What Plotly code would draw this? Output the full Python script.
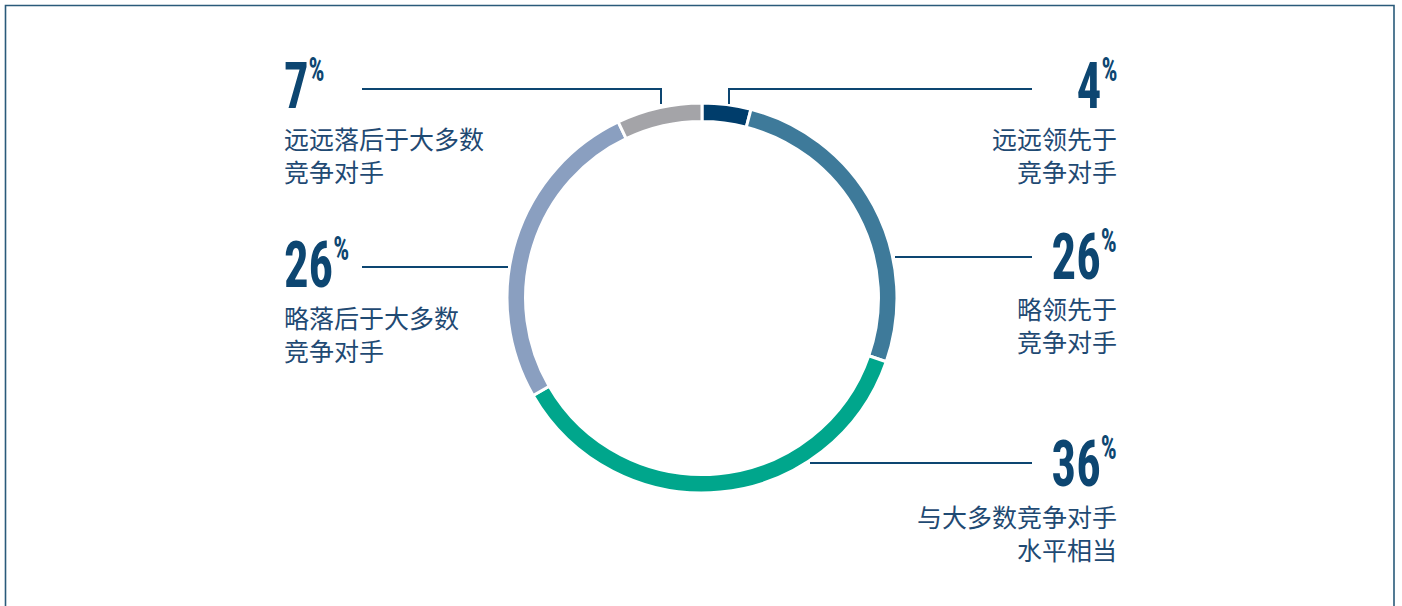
import plotly.graph_objects as go

W, H = 1402, 606

# data
values = [4, 26, 36, 26, 7]
categories = ["远远领先于<br>竞争对手", "略领先于<br>竞争对手", "与大多数竞争对手<br>水平相当",
              "略落后于大多数<br>竞争对手", "远远落后于大多数<br>竞争对手"]
colors = ["#003d6b", "#3e7a9a", "#00a68c", "#8a9fc0", "#a4a4a8"]

NAVY = "#0d4671"
TEXT = "#1f4a73"
NUMFONT = "Roboto Condensed, Roboto, sans-serif"
CJK = "Noto Sans CJK SC"

def px(x):
    return x / W

def py(y):
    return 1 - y / H

cx, cy, R = 702, 298, 195

fig = go.Figure(go.Pie(
    values=values,
    labels=categories,
    marker=dict(colors=colors, line=dict(color="white", width=3)),
    hole=0.905,
    sort=False,
    direction="clockwise",
    rotation=0,
    textinfo="none",
    hoverinfo="label+percent",
    domain=dict(x=[px(cx - R), px(cx + R)], y=[py(cy + R), py(cy - R)]),
    showlegend=False,
))

# label layout: (index, side, number center y, text block center y, anchor x)
layout_spec = [
    (0, "right", 86, 154, 1119),
    (1, "right", 257, 324, 1119),
    (2, "right", 464, 532, 1119),
    (3, "left", 265, 333, 282),
    (4, "left", 86, 154, 282),
]

annotations = []
for idx, side, ny, ty, ax in layout_spec:
    xa = "right" if side == "right" else "left"
    annotations.append(dict(
        x=px(ax), y=py(ny), xref="paper", yref="paper",
        xanchor=xa, yanchor="middle", align=xa, showarrow=False,
        text=f"{values[idx]}<sup><span style='font-size:33px'>%</span></sup>",
        font=dict(family=NUMFONT, size=64, color=NAVY, weight="bold"),
    ))
    annotations.append(dict(
        x=px(ax), y=py(ty), xref="paper", yref="paper",
        xanchor=xa, yanchor="middle", align=xa, showarrow=False,
        text=categories[idx],
        font=dict(family=CJK, size=25, color=TEXT),
    ))

shapes = []
# leader lines (pixel coordinates)
leaders = [
    [(729, 104), (729, 89), (1032, 89)],
    [(895, 257), (1032, 257)],
    [(810, 463), (1032, 463)],
    [(362, 267), (508, 267)],
    [(362, 89), (661, 89), (661, 104)],
]
for pts in leaders:
    path = "M " + " L ".join(f"{px(x)},{py(y)}" for x, y in pts)
    shapes.append(dict(type="path", xref="paper", yref="paper", path=path,
                       line=dict(color=NAVY, width=2)))

# frame
shapes.append(dict(type="rect", xref="paper", yref="paper",
                   x0=px(5.5), x1=px(1394), y0=py(620), y1=py(5.5),
                   line=dict(color="#2a5a7a", width=1.6)))

fig.update_layout(
    width=W, height=H,
    margin=dict(l=0, r=0, t=0, b=0),
    paper_bgcolor="white", plot_bgcolor="white",
    annotations=annotations, shapes=shapes,
)

# narrow the big percentage figures horizontally (the original uses a very condensed face)
post = """
var gd = document.getElementById('{plot_id}');
function squeeze(){
  gd.querySelectorAll('g.annotation').forEach(function(g){
    var i = +g.getAttribute('data-index');
    if (i % 2 !== 0) return;
    var t = g.querySelector('text.annotation-text');
    if (!t) return;
    t.style.transformBox = 'fill-box';
    t.style.transformOrigin = (i < 6 ? '100%' : '0%') + ' 50%';
    t.style.transform = 'scaleX(0.76)';
  });
}
squeeze();
gd.on('plotly_afterplot', squeeze);
"""

fig.write_html("out.html", post_script=post)
